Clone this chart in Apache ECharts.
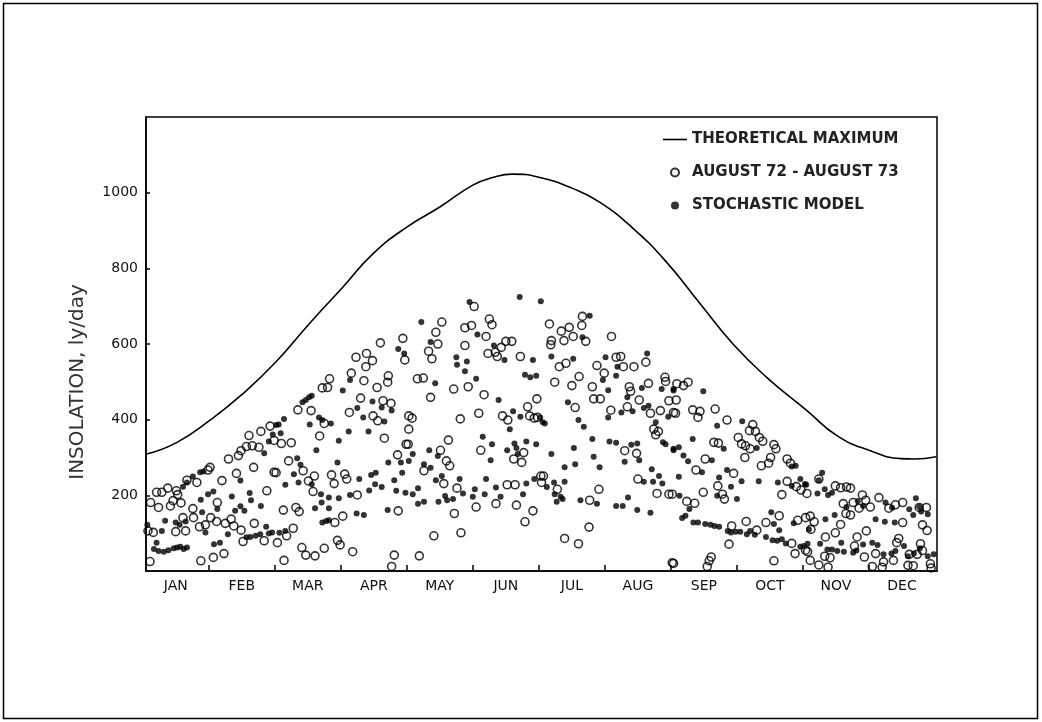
<!DOCTYPE html>
<html>
<head>
<meta charset="utf-8">
<title>Insolation</title>
<script src="https://cdn.jsdelivr.net/npm/echarts@6/dist/echarts.min.js"></script>
<style>
	html, body { margin: 0; padding: 0; background: #fff; }
	#insolation { width: 1042px; height: 722px; }
</style>
</head>
<body>
<div id="insolation"></div>
<script>
// x is in months from Jan 1 (0 .. 12), y is ly/day
var months = ['JAN', 'FEB', 'MAR', 'APR', 'MAY', 'JUN', 'JUL', 'AUG', 'SEP', 'OCT', 'NOV', 'DEC'];

var theoretical = [
	[0.06, 309], [0.52, 340], [1.03, 400], [1.5, 466], [2.02, 553], [2.52, 653], [3.03, 750],
	[3.49, 839], [4.0, 909], [4.5, 962], [5.0, 1020], [5.3, 1040], [5.6, 1049], [6.0, 1041],
	[6.5, 1012], [6.92, 975], [7.43, 905], [7.93, 817], [8.44, 707], [8.94, 600], [9.45, 512],
	[10.06, 424], [10.52, 357], [11.02, 318], [11.48, 297], [11.68, 296], [12.02, 302]
];

// August 72 - August 73 (open circles)
var observed = [
	[0.08, 106], [0.11, 25], [0.12, 181], [0.16, 102], [0.21, 208], [0.24, 168], [0.29, 208], [0.38, 219],
	[0.42, 172], [0.46, 186], [0.50, 104], [0.51, 212], [0.53, 202], [0.58, 180], [0.61, 141], [0.65, 106],
	[0.67, 240], [0.76, 165], [0.77, 141], [0.82, 234], [0.86, 117], [0.88, 27], [0.95, 122], [0.99, 267],
	[1.02, 274], [1.03, 141], [1.07, 36], [1.12, 131], [1.13, 181], [1.20, 239], [1.23, 46], [1.25, 126],
	[1.30, 296], [1.34, 137], [1.38, 119], [1.42, 258], [1.45, 305], [1.49, 318], [1.49, 108], [1.52, 78],
	[1.57, 329], [1.61, 358], [1.66, 331], [1.68, 274], [1.69, 126], [1.76, 327], [1.79, 369], [1.84, 80],
	[1.88, 212], [1.93, 383], [1.99, 345], [1.99, 261], [2.04, 75],
	[2.02, 260], [2.10, 337], [2.13, 161], [2.14, 28], [2.18, 93], [2.21, 291], [2.25, 339], [2.28, 113],
	[2.32, 168], [2.35, 426], [2.37, 157], [2.41, 62], [2.43, 265], [2.47, 42], [2.51, 238], [2.55, 424],
	[2.58, 210], [2.60, 251], [2.61, 40], [2.68, 357], [2.72, 484], [2.75, 390], [2.75, 60], [2.80, 485],
	[2.83, 508], [2.86, 254], [2.90, 231], [2.91, 128], [2.95, 81], [2.99, 69], [3.03, 145], [3.06, 256],
	[3.09, 243], [3.13, 419], [3.16, 523], [3.18, 51], [3.23, 565], [3.25, 201], [3.30, 457], [3.35, 503],
	[3.38, 540], [3.39, 575], [3.48, 556], [3.49, 410], [3.55, 485], [3.56, 397], [3.60, 603], [3.64, 450],
	[3.66, 351], [3.71, 499], [3.72, 516], [3.76, 443], [3.77, 12], [3.81, 42], [3.86, 307], [3.87, 159],
	[3.94, 615], [3.97, 558], [3.99, 335], [4.03, 410], [4.03, 375],
	[4.08, 404], [4.02, 335], [4.16, 508], [4.19, 40], [4.25, 510], [4.26, 265], [4.33, 581], [4.36, 459],
	[4.38, 561], [4.41, 93], [4.44, 631], [4.47, 600], [4.51, 319], [4.53, 658], [4.56, 231], [4.60, 291],
	[4.63, 346], [4.65, 278], [4.71, 481], [4.72, 152], [4.76, 219], [4.81, 402], [4.82, 101], [4.88, 643],
	[4.88, 596], [4.93, 487], [4.98, 649], [5.02, 699], [5.05, 169], [5.09, 417], [5.12, 319], [5.17, 466],
	[5.20, 620], [5.23, 575], [5.25, 666], [5.29, 651], [5.34, 578], [5.35, 178], [5.37, 567], [5.43, 591],
	[5.45, 410], [5.50, 607], [5.52, 228], [5.53, 399], [5.59, 607], [5.62, 296], [5.64, 228], [5.66, 174],
	[5.72, 567], [5.74, 287], [5.77, 313], [5.79, 130], [5.83, 434], [5.86, 410], [5.91, 159], [5.93, 404],
	[5.97, 455], [5.98, 406], [6.03, 251], [6.04, 234],
	[6.07, 251], [6.16, 653], [6.18, 598], [6.19, 609], [6.24, 499], [6.28, 216], [6.31, 540], [6.34, 634],
	[6.38, 609], [6.39, 86], [6.41, 549], [6.46, 644], [6.50, 490], [6.52, 620], [6.55, 432], [6.60, 72],
	[6.61, 514], [6.65, 649], [6.66, 673], [6.71, 607], [6.76, 116], [6.77, 187], [6.81, 487], [6.83, 455],
	[6.88, 543], [6.91, 216], [6.93, 455], [6.99, 523], [7.09, 425], [7.10, 620], [7.17, 565], [7.24, 567],
	[7.28, 540], [7.30, 318], [7.34, 434], [7.37, 487], [7.39, 475], [7.44, 540], [7.48, 311], [7.50, 243],
	[7.52, 452], [7.62, 552], [7.66, 496], [7.69, 417], [7.74, 375], [7.77, 360], [7.79, 205], [7.81, 369],
	[7.84, 424], [7.91, 512], [7.92, 501], [7.97, 450], [7.97, 203], [8.02, 22], [8.04, 419],
	[8.02, 203], [8.04, 20], [8.07, 417], [8.08, 452], [8.09, 495], [8.19, 490], [8.24, 184], [8.26, 499],
	[8.33, 426], [8.36, 179], [8.38, 267], [8.41, 406], [8.44, 422], [8.49, 208], [8.52, 296], [8.55, 12],
	[8.58, 27], [8.61, 37], [8.65, 340], [8.67, 428], [8.71, 225], [8.72, 338], [8.78, 203], [8.81, 190],
	[8.85, 399], [8.88, 71], [8.92, 119], [8.95, 258], [9.02, 353], [9.07, 336], [9.12, 300], [9.13, 331],
	[9.14, 131], [9.19, 371], [9.20, 323], [9.24, 387], [9.28, 369], [9.30, 108], [9.34, 353], [9.37, 278],
	[9.39, 343], [9.44, 128], [9.48, 285], [9.51, 300], [9.56, 334], [9.56, 27], [9.59, 323], [9.64, 146],
	[9.68, 202], [9.76, 296], [9.76, 237], [9.81, 285], [9.83, 73], [9.88, 46], [9.90, 223], [9.92, 134],
	[9.97, 214], [10.04, 141], [10.04, 55],
	[10.06, 205], [10.07, 51], [10.11, 145], [10.11, 28], [10.12, 110], [10.17, 130], [10.24, 243], [10.24, 16],
	[10.33, 39], [10.34, 90], [10.38, 10], [10.41, 35], [10.49, 225], [10.49, 101], [10.57, 220], [10.57, 123],
	[10.61, 178], [10.65, 152], [10.66, 222], [10.72, 219], [10.72, 148], [10.76, 181], [10.78, 66], [10.82, 90],
	[10.85, 166], [10.90, 201], [10.93, 37], [10.95, 187], [10.96, 106], [11.02, 169], [11.05, 12], [11.10, 46],
	[11.15, 194], [11.20, 10], [11.22, 24], [11.30, 166], [11.37, 28], [11.40, 175], [11.42, 75], [11.45, 86],
	[11.51, 181], [11.51, 128], [11.59, 15], [11.61, 44], [11.67, 14], [11.73, 44], [11.76, 168], [11.78, 72],
	[11.81, 122], [11.81, 54], [11.87, 168], [11.88, 107], [11.93, 19], [11.94, 8]
];

// stochastic model (filled dots)
var model = [
	[0.07, 122], [0.17, 58], [0.21, 75], [0.24, 53], [0.29, 106], [0.32, 51], [0.34, 133], [0.39, 55],
	[0.47, 60], [0.50, 128], [0.52, 62], [0.56, 122], [0.57, 64], [0.61, 223], [0.62, 58], [0.65, 131],
	[0.67, 62], [0.67, 234], [0.76, 250], [0.87, 261], [0.88, 188], [0.90, 155], [0.92, 263], [0.95, 102],
	[0.99, 203], [1.07, 210], [1.08, 71], [1.13, 164], [1.17, 75], [1.29, 97], [1.35, 197], [1.40, 159],
	[1.48, 239], [1.48, 171], [1.54, 159], [1.57, 89], [1.62, 206], [1.63, 90], [1.64, 187], [1.71, 93],
	[1.78, 97], [1.79, 172], [1.84, 311], [1.87, 117], [1.91, 342], [1.91, 99], [1.96, 102], [1.97, 361],
	[2.02, 386],
	[2.06, 387], [2.07, 101], [2.09, 364], [2.14, 402], [2.16, 228], [2.16, 106], [2.29, 256], [2.34, 298],
	[2.36, 234], [2.39, 281], [2.42, 446], [2.47, 452], [2.52, 459], [2.53, 387], [2.56, 463], [2.56, 229],
	[2.61, 166], [2.63, 319], [2.67, 406], [2.70, 203], [2.71, 181], [2.72, 399], [2.72, 128], [2.78, 132],
	[2.82, 194], [2.82, 166], [2.82, 134], [2.85, 390], [2.95, 287], [2.97, 344], [2.97, 192], [3.03, 477],
	[3.12, 369], [3.14, 505], [3.14, 201], [3.24, 152], [3.25, 431], [3.28, 243], [3.34, 406], [3.35, 148],
	[3.42, 369], [3.43, 213], [3.46, 254], [3.48, 448], [3.52, 229], [3.53, 260], [3.62, 432], [3.62, 222],
	[3.66, 395], [3.71, 161], [3.72, 287], [3.77, 424], [3.81, 240], [3.84, 212], [3.87, 587], [3.91, 287],
	[3.93, 260], [3.96, 575], [3.98, 207], [4.03, 291],
	[4.09, 309], [4.09, 203], [4.17, 219], [4.17, 178], [4.22, 658], [4.26, 282], [4.26, 183], [4.34, 319],
	[4.36, 605], [4.36, 273], [4.43, 496], [4.44, 240], [4.47, 304], [4.48, 183], [4.53, 251], [4.58, 198],
	[4.61, 187], [4.70, 190], [4.75, 565], [4.76, 545], [4.80, 243], [4.85, 205], [4.88, 528], [4.91, 554],
	[4.95, 711], [5.00, 196], [5.03, 216], [5.05, 508], [5.07, 625], [5.15, 355], [5.18, 203], [5.20, 243],
	[5.27, 293], [5.29, 335], [5.32, 596], [5.35, 221], [5.39, 452], [5.42, 196], [5.48, 558], [5.52, 319],
	[5.56, 375], [5.61, 422], [5.63, 337], [5.66, 325], [5.68, 309], [5.71, 724], [5.72, 408], [5.76, 203],
	[5.79, 519], [5.81, 342], [5.81, 231], [5.87, 512], [5.91, 558], [5.93, 243], [5.96, 516], [5.96, 335],
	[6.03, 713], [6.06, 393],
	[6.02, 406], [6.09, 390], [6.12, 222], [6.19, 567], [6.19, 309], [6.23, 234], [6.24, 203], [6.27, 183],
	[6.33, 196], [6.36, 190], [6.39, 274], [6.39, 236], [6.44, 446], [6.52, 561], [6.53, 325], [6.55, 282],
	[6.60, 399], [6.63, 187], [6.66, 618], [6.68, 381], [6.77, 675], [6.81, 349], [6.83, 302], [6.88, 178],
	[6.92, 274], [6.97, 505], [7.01, 565], [7.05, 478], [7.05, 406], [7.07, 342], [7.17, 516], [7.17, 339],
	[7.17, 172], [7.19, 540], [7.25, 419], [7.27, 172], [7.30, 289], [7.34, 459], [7.35, 194], [7.40, 334],
	[7.42, 422], [7.49, 337], [7.49, 161], [7.52, 293], [7.56, 484], [7.59, 431], [7.59, 236], [7.64, 575],
	[7.66, 437], [7.69, 154], [7.71, 269], [7.73, 236], [7.77, 393], [7.82, 251], [7.86, 481], [7.87, 231],
	[7.88, 340], [7.92, 335], [7.96, 408], [8.04, 481], [8.04, 319],
	[8.04, 477], [8.04, 323], [8.12, 327], [8.12, 249], [8.13, 199], [8.17, 140], [8.19, 305], [8.22, 146],
	[8.26, 290], [8.28, 164], [8.33, 349], [8.34, 128], [8.41, 128], [8.47, 261], [8.49, 475], [8.52, 124],
	[8.60, 122], [8.62, 293], [8.66, 119], [8.70, 384], [8.70, 199], [8.73, 247], [8.73, 117], [8.80, 323],
	[8.85, 267], [8.86, 106], [8.91, 223], [8.91, 102], [8.98, 104], [9.00, 190], [9.05, 104], [9.07, 237],
	[9.08, 396], [9.15, 97], [9.20, 106], [9.27, 96], [9.30, 325], [9.33, 237], [9.44, 90], [9.52, 155],
	[9.54, 81], [9.56, 124], [9.61, 80], [9.62, 234], [9.64, 108], [9.68, 84], [9.74, 73], [9.83, 276],
	[9.83, 225], [9.86, 126], [9.89, 278], [9.96, 243], [9.96, 64], [10.01, 66], [10.03, 230],
	[10.05, 228], [10.07, 72], [10.09, 110], [10.22, 205], [10.24, 240], [10.26, 72], [10.29, 260], [10.33, 216],
	[10.34, 137], [10.37, 57], [10.38, 201], [10.44, 207], [10.44, 57], [10.48, 148], [10.52, 53], [10.58, 75],
	[10.62, 51], [10.66, 169], [10.76, 48], [10.81, 54], [10.83, 185], [10.91, 172], [10.91, 70], [11.05, 75],
	[11.10, 137], [11.13, 69], [11.22, 44], [11.24, 130], [11.25, 181], [11.34, 46], [11.35, 167], [11.39, 128],
	[11.40, 53], [11.53, 66], [11.59, 39], [11.61, 163], [11.67, 148], [11.68, 46], [11.71, 192], [11.76, 169],
	[11.77, 60], [11.79, 157], [11.89, 150], [11.89, 39], [11.98, 44]
];

var monthEdges = months.slice(1).map(function(m, i) { return i + 1; });
var monthMiddles = months.map(function(m, i) { return i + 0.5; });

var font = 'DejaVu Sans';
var myChart = echarts.init(document.getElementById('insolation'));
var option = {
	animation: false,
	backgroundColor: '#fff',
	graphic: [{
		type: 'rect',
		shape: { x: 3.5, y: 3.5, width: 1034, height: 715 },
		style: { fill: 'none', stroke: '#000', lineWidth: 1.5 },
		silent: true
	}],
	grid: {
		left: 146,
		right: 105,
		top: 117,
		bottom: 151,
		show: true,
		borderColor: '#000',
		borderWidth: 1.5
	},
	legend: {
		orient: 'vertical',
		left: 658,
		top: 127,
		itemWidth: 24,
		itemHeight: 8,
		itemGap: 18,
		textStyle: { fontFamily: font, fontSize: 15, fontWeight: 'bold', color: '#222' },
		data: [
			{ name: 'THEORETICAL MAXIMUM', icon: 'path://M0,0 L24,0 L24,1.6 L0,1.6 Z' },
			{ name: 'AUGUST 72 - AUGUST 73' },
			{ name: 'STOCHASTIC MODEL' }
		]
	},
	xAxis: {
		type: 'value',
		min: 0.05,
		max: 12.03,
		splitLine: { show: false },
		axisLine: { show: true, lineStyle: { color: '#000', width: 1.5 } },
		axisTick: {
			show: true,
			inside: true,
			length: 6,
			customValues: monthEdges,
			lineStyle: { color: '#000', width: 1.5 }
		},
		axisLabel: {
			customValues: monthMiddles,
			margin: 8,
			color: '#111',
			fontFamily: font,
			fontSize: 14,
			formatter: function(v) { return months[Math.floor(v)]; }
		}
	},
	yAxis: {
		type: 'value',
		min: 0,
		max: 1200,
		interval: 200,
		name: 'INSOLATION, ly/day',
		nameLocation: 'middle',
		nameRotate: 90,
		nameGap: 58,
		nameTextStyle: {
			fontFamily: font,
			fontSize: 20,
			color: '#333',
			padding: [0, 76, 0, 0]
		},
		splitLine: { show: false },
		axisLine: { show: true, lineStyle: { color: '#000', width: 1.5 } },
		axisTick: { show: true, inside: true, length: 4, lineStyle: { color: '#000', width: 1.5 } },
		axisLabel: {
			showMinLabel: false,
			showMaxLabel: false,
			margin: 8,
			color: '#111',
			fontFamily: font,
			fontSize: 14,
			formatter: function(v) { return String(v); }
		}
	},
	series: [{
		name: 'THEORETICAL MAXIMUM',
		type: 'line',
		data: theoretical,
		smooth: 0.5,
		symbol: 'none',
		lineStyle: { color: '#000', width: 1.6 },
		itemStyle: { color: '#000' },
		z: 2
	}, {
		name: 'AUGUST 72 - AUGUST 73',
		type: 'scatter',
		data: observed,
		symbol: 'circle',
		symbolSize: 8,
		itemStyle: { color: 'rgba(255,255,255,0)', borderColor: '#000', borderWidth: 1.6 },
		z: 3
	}, {
		name: 'STOCHASTIC MODEL',
		type: 'scatter',
		data: model,
		symbol: 'circle',
		symbolSize: 6,
		itemStyle: { color: '#000' },
		z: 4
	}]
};
myChart.setOption(option);
</script>
</body>
</html>
